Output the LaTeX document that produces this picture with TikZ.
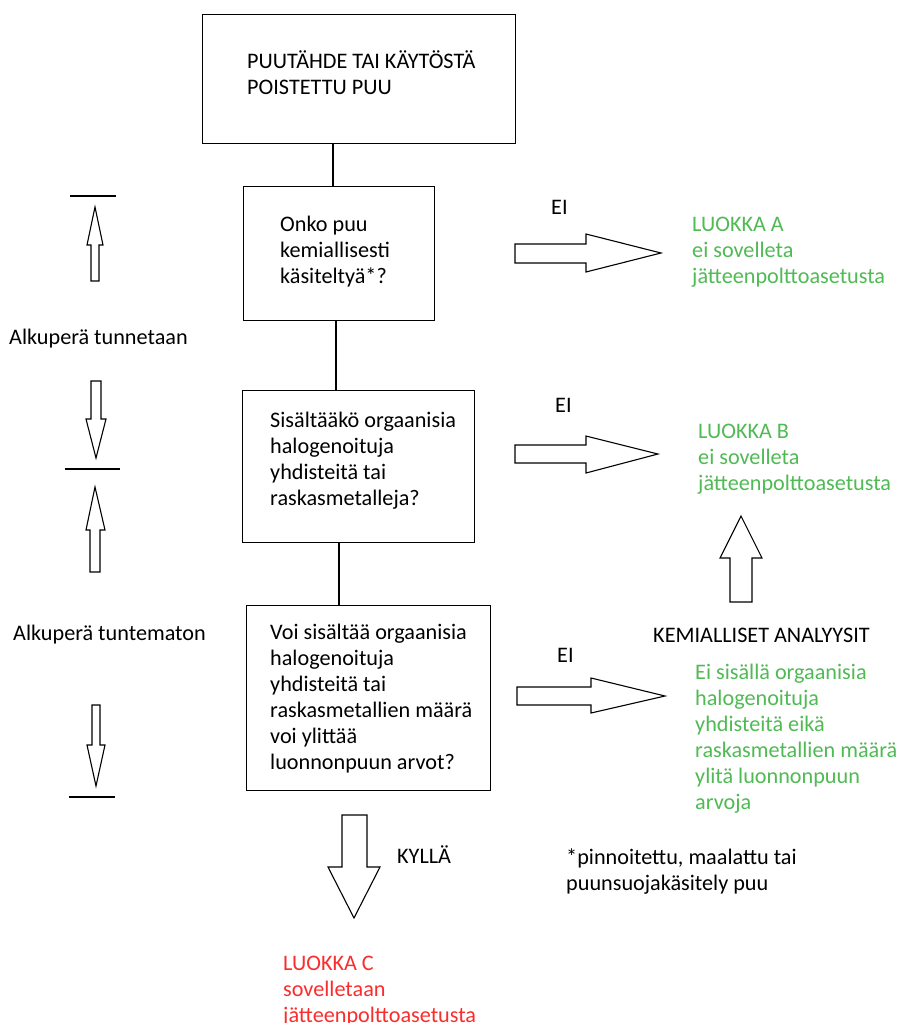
\documentclass[tikz,border=0pt]{standalone}
\usepackage{fontspec}
\setmainfont{Carlito}
\definecolor{okgreen}{RGB}{80,186,84}
\definecolor{badred}{RGB}{250,45,45}
\newcommand{\fst}{\rule{0pt}{20pt}}
\begin{document}
\begin{tikzpicture}[x=1pt,y=-1pt,
  box/.style={draw,line width=1.3pt,inner sep=0,anchor=north west},
  txt/.style={anchor=north west,inner sep=0,align=left,font=\fontsize{22.2}{26}\selectfont},
  blk/.style={draw,line width=1.1pt,fill=white,line join=miter},
  bar/.style={line width=1.1pt},
  link/.style={line width=1.3pt}]
\useasboundingbox[fill=white] (0,0) rectangle (898,1023);
% boxes
\node[box,minimum width=313pt,minimum height=129pt] (b1) at (202,14) {};
\node[box,minimum width=191pt,minimum height=134pt] (b2) at (243,186) {};
\node[box,minimum width=232pt,minimum height=152pt] (b3) at (242,390) {};
\node[box,minimum width=244pt,minimum height=185pt] (b4) at (246,605) {};
% connectors
\coordinate (l1) at (333,0);
\coordinate (l2) at (336,0);
\coordinate (l3) at (339,0);
\draw[link] (b1.south -| l1) -- (b2.north -| l1);
\draw[link] (b2.south -| l2) -- (b3.north -| l2);
\draw[link] (b3.south -| l3) -- (b4.north -| l3);
% box texts
\node[txt] (t1) at (247,48) {\fst PUUTÄHDE TAI KÄYTÖSTÄ\\POISTETTU PUU};
\node[txt] (t2) at (280,211) {\fst Onko puu\\kemiallisesti\\käsiteltyä*?};
\node[txt] (t3) at (270,407) {\fst Sisältääkö orgaanisia\\halogenoituja\\yhdisteitä tai\\raskasmetalleja?};
\node[txt] (t4) at (270,619) {\fst Voi sisältää orgaanisia\\halogenoituja\\yhdisteitä tai\\raskasmetallien määrä\\voi ylittää\\luonnonpuun arvot?};
% right side
\node[txt] (ei1) at (551,194) {\fst EI};
\node[txt] (ei2) at (555,392) {\fst EI};
\node[txt] (ei3) at (557,642) {\fst EI};
\node[txt,text=okgreen] (ca) at (692,211) {\fst LUOKKA A\\ei sovelleta\\jätteenpolttoasetusta};
\node[txt,text=okgreen] (cb) at (698,418) {\fst LUOKKA B\\ei sovelleta\\jätteenpolttoasetusta};
\node[txt] (kem) at (653,622) {\fst KEMIALLISET ANALYYSIT};
\node[txt,text=okgreen] (res) at (695,659) {\fst Ei sisällä orgaanisia\\halogenoituja\\yhdisteitä eikä\\raskasmetallien määrä\\ylitä luonnonpuun\\arvoja};
\node[txt] (kyl) at (397,843) {\fst KYLLÄ};
\node[txt] (foot) at (566,844) {\fst *pinnoitettu, maalattu tai\\puunsuojakäsitely puu};
\node[txt,text=badred] (cc) at (283,950) {\fst LUOKKA C\\sovelletaan\\jätteenpolttoasetusta};
% left side
\node[txt] (kn) at (9,324) {\fst Alkuperä tunnetaan};
\node[txt] (un) at (13,620) {\fst Alkuperä tuntematon};
% right block arrows
\draw[blk] (515,244) -- (586,244) -- (586,234) -- (661,253) -- (586,272) -- (586,263) -- (515,263) -- cycle;
\draw[blk] (515,445) -- (586,445) -- (586,436) -- (658,454) -- (586,473) -- (586,463) -- (515,463) -- cycle;
\draw[blk] (517,687) -- (591,687) -- (591,678) -- (665,696) -- (591,713) -- (591,705) -- (517,705) -- cycle;
% up arrow to LUOKKA B
\draw[blk] (730,602) -- (730,558) -- (720,558) -- (741,516) -- (762,558) -- (752,558) -- (752,602) -- cycle;
% down arrow KYLLA
\draw[blk] (342,815) -- (367,815) -- (367,867) -- (380,867) -- (354,918) -- (328,867) -- (342,867) -- cycle;
% left arrows and bars
\draw[bar] (70,196) -- (116,196);
\draw[bar] (65,469) -- (120,469);
\draw[bar] (69,797) -- (115,797);
\draw[blk] (91,281) -- (91,245) -- (87,245) -- (95,207) -- (103,245) -- (99,245) -- (99,281) -- cycle;
\draw[blk] (91,381) -- (101,381) -- (101,419) -- (106,419) -- (96,458) -- (86,419) -- (91,419) -- cycle;
\draw[blk] (90,572) -- (90,530) -- (86,530) -- (95,487) -- (105,530) -- (100,530) -- (100,572) -- cycle;
\draw[blk] (92,705) -- (100,705) -- (100,745) -- (105,745) -- (96,786) -- (87,745) -- (92,745) -- cycle;
\end{tikzpicture}
\end{document}
